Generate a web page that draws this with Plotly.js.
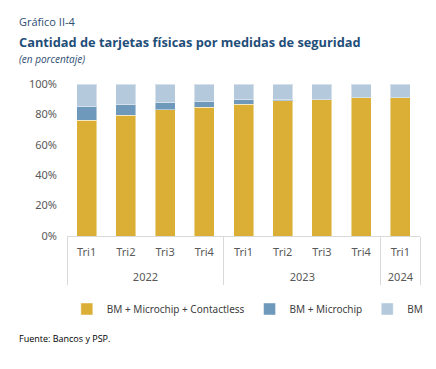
<!DOCTYPE html>
<html>
<head>
<meta charset="utf-8">
<script src="https://cdn.plot.ly/plotly-3.0.1.min.js"></script>
<style>html,body{margin:0;padding:0;background:#fff;}#chart{width:436px;height:369px;}</style>
</head>
<body>
<div id="chart"></div>
<script>
const years = ["2022","2022","2022","2022","2023","2023","2023","2023","2024"];
const quarters = ["Tri1","Tri2","Tri3","Tri4","Tri1","Tri2","Tri3","Tri4","Tri1"];
const contactless = [76.3, 79.6, 82.9, 84.6, 86.8, 89.0, 89.7, 90.8, 91.0];
const microchip = [8.8, 6.6, 4.8, 4.2, 2.7, 1.1, 0.4, 0.1, 0.1];
const bm = [14.9, 13.8, 12.3, 11.2, 10.5, 9.9, 9.9, 9.1, 8.9];
const seriesNames = ["BM + Microchip + Contactless", "BM + Microchip", "BM"];
const yTicks = [0, 20, 40, 60, 80, 100];
const yTickText = ["0%", "20%", "40%", "60%", "80%", "100%"];

// second line in the quarter labels pushes the year row further down
const x = [years, quarters.map(q => q + '<br>&nbsp;')];
const line = {color: 'rgba(255,255,255,0.45)', width: 1};
const traces = [
  {type:'bar', name: seriesNames[0], x, y: contactless, marker:{color:'#DBAF36', line}},
  {type:'bar', name: seriesNames[1], x, y: microchip, marker:{color:'#6E99BB', line}},
  {type:'bar', name: seriesNames[2], x, y: bm, marker:{color:'#B4C9DB', line}}
];

const W = 353, H = 152, L = 67, T = 84;
const px = v => (v - L) / W;
const py = v => (T + H - v) / H;
const FONT = '"Noto Sans", "Liberation Sans", sans-serif';

const layout = {
  width: 436, height: 369,
  margin: {l: L, r: 436 - L - W, t: T, b: 369 - T - H},
  barmode: 'stack',
  bargap: 0.49,
  paper_bgcolor: '#fff', plot_bgcolor: '#fff',
  font: {family: FONT, size: 11, color: '#595959'},
  showlegend: true,
  legend: {orientation: 'h', x: -0.0005, xanchor: 'left', y: py(309), yanchor: 'middle',
           bgcolor: 'rgba(0,0,0,0)',
           font: {family: FONT, size: 10, color: '#404040'}, traceorder: 'normal',
           itemwidth: 30},
  xaxis: {
    type: 'multicategory',
    showline: true, linecolor: '#D9D9D9', linewidth: 1,
    showdividers: true, dividercolor: '#D9D9D9', dividerwidth: 1,
    tickfont: {family: FONT, size: 11, color: '#595959'},
    ticklabelstandoff: 6,
    ticks: '', showgrid: false
  },
  yaxis: {
    range: [0, 100], tickmode: 'array', tickvals: yTicks, ticktext: yTickText,
    showgrid: false, zeroline: false, showline: false,
    ticklabelstandoff: 9,
    tickfont: {family: FONT, size: 11, color: '#595959'}
  },
  annotations: [
    {text: 'Gráfico II-4', xref:'paper', yref:'paper', x: px(17), y: py(22), xanchor:'left', yanchor:'middle', showarrow:false,
     font:{family:'"Open Sans", sans-serif', size:11, color:'#2E4D73'}},
    {text: '<b>Cantidad de tarjetas físicas por medidas de seguridad</b>', xref:'paper', yref:'paper', x: px(17), y: py(42), xanchor:'left', yanchor:'middle', showarrow:false,
     font:{family:'"Open Sans", sans-serif', size:12.8, color:'#1F4E79'}},
    {text: '<i>(en porcentaje)</i>', xref:'paper', yref:'paper', x: px(17), y: py(59), xanchor:'left', yanchor:'middle', showarrow:false,
     font:{family:'"Open Sans", sans-serif', size:10, color:'#2E4D73'}},
    {text: 'Fuente: Bancos y PSP.', xref:'paper', yref:'paper', x: px(17), y: py(338), xanchor:'left', yanchor:'middle', showarrow:false,
     font:{family:'"Open Sans", sans-serif', size:9, color:'#000'}}
  ]
};

Plotly.newPlot('chart', traces, layout, {displayModeBar: false, staticPlot: true});
</script>
</body>
</html>
